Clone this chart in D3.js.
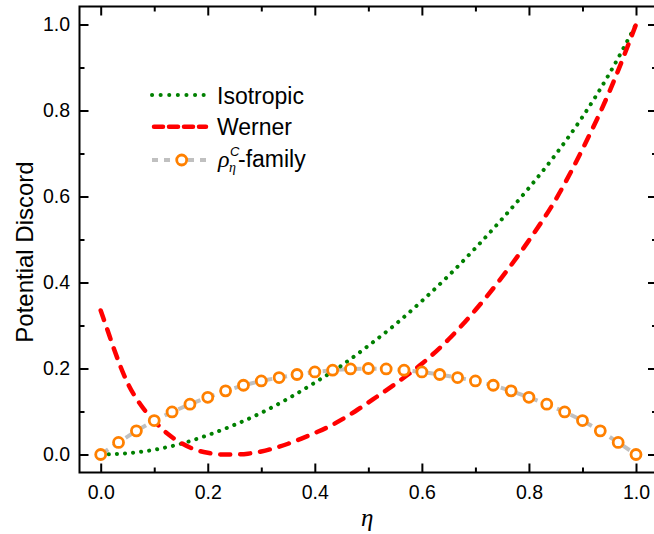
<!DOCTYPE html>
<meta charset="utf-8">
<script src="https://cdn.jsdelivr.net/npm/d3@7"></script>
<style>
body{margin:0;background:#fff;}
text{font-family:"Liberation Sans",Arial,sans-serif;fill:#000;}
</style>
<body>
<script>
// values
var isoEta=[0,0.05,0.1,0.15,0.2,0.25,0.3,0.35,0.4,0.45,0.5,0.55,0.6,0.65,0.7,0.75,0.8,0.85,0.9,0.95,1.0];
var isoVal=[0,0.003,0.011,0.025,0.045,0.069,0.097,0.13,0.167,0.207,0.253,0.302,0.357,0.416,0.48,0.548,0.62,0.698,0.785,0.885,1.0];

var wernerEta=[0,0.0125,0.025,0.0375,0.05,0.075,0.1,0.125,0.15,0.175,0.2,0.225,0.25,0.275,0.3,0.325,0.35,0.375,0.4,0.425,0.45,0.475,0.5,0.55,0.6,0.65,0.7,0.75,0.8,0.85,0.9,0.95,1.0];
var wernerVal=[0.335,0.29,0.245,0.203,0.167,0.115,0.078,0.048,0.027,0.012,0.004,0.0,0.0,0.002,0.007,0.015,0.025,0.037,0.05,0.064,0.081,0.10,0.121,0.164,0.211,0.268,0.336,0.413,0.498,0.593,0.71,0.843,1.0];

var famEta=[0,0.0333,0.0667,0.1,0.1333,0.1667,0.2,0.2333,0.2667,0.3,0.3333,0.3667,0.4,0.4333,0.4667,0.5,
            0.5333,0.5667,0.6,0.6333,0.6667,0.7,0.7333,0.7667,0.8,0.8333,0.8667,0.9,0.9333,0.9667,1.0];
var famVal=[0,0.028,0.055,0.079,0.099,0.117,0.133,0.148,0.161,0.171,0.179,0.186,0.192,0.196,0.199,0.200,
            0.199,0.196,0.192,0.186,0.179,0.171,0.161,0.148,0.133,0.117,0.099,0.079,0.055,0.028,0];

var majorTicks=[0,0.2,0.4,0.6,0.8,1.0];
var minorTicks=[0.1,0.3,0.5,0.7,0.9];
var legendLabels=["Isotropic","Werner"];

var W=654,H=534;
var svg=d3.select("body").append("svg").attr("width",W).attr("height",H);

// frame edges (note: "top" is reserved on window)
var fL=79.5,fR=657,fT=6.5,fB=472.5;
var x=d3.scaleLinear().domain([0,1]).range([100.7,636]);
var y=d3.scaleLinear().domain([0,1]).range([454.5,24.5]);
var fmt=d3.format(".1f");

function styleAxis(g){
  g.select(".domain").remove();
  g.selectAll("line").attr("stroke","#000").attr("stroke-width",2);
  g.selectAll("text").style("font-size","19.5px").attr("fill","#000");
}

// bottom
svg.append("g").attr("transform","translate(0,"+fB+")")
  .call(d3.axisBottom(x).tickValues(majorTicks).tickSize(-9).tickPadding(12.5).tickFormat(fmt)).call(styleAxis);
svg.append("g").attr("transform","translate(0,"+fB+")")
  .call(d3.axisBottom(x).tickValues(minorTicks).tickSize(-5).tickFormat("")).call(styleAxis);
// top
svg.append("g").attr("transform","translate(0,"+fT+")")
  .call(d3.axisTop(x).tickValues(majorTicks).tickSize(-9).tickFormat("")).call(styleAxis);
svg.append("g").attr("transform","translate(0,"+fT+")")
  .call(d3.axisTop(x).tickValues(minorTicks).tickSize(-5).tickFormat("")).call(styleAxis);
// left
svg.append("g").attr("transform","translate("+fL+",0)")
  .call(d3.axisLeft(y).tickValues(majorTicks).tickSize(-9).tickPadding(9.5).tickFormat(fmt)).call(styleAxis);
svg.append("g").attr("transform","translate("+fL+",0)")
  .call(d3.axisLeft(y).tickValues(minorTicks).tickSize(-5).tickFormat("")).call(styleAxis);
// right
svg.append("g").attr("transform","translate("+fR+",0)")
  .call(d3.axisRight(y).tickValues(majorTicks).tickSize(-9).tickFormat("")).call(styleAxis);
svg.append("g").attr("transform","translate("+fR+",0)")
  .call(d3.axisRight(y).tickValues(minorTicks).tickSize(-5).tickFormat("")).call(styleAxis);

svg.append("rect").attr("x",fL).attr("y",fT).attr("width",fR-fL).attr("height",fB-fT)
  .attr("fill","none").attr("stroke","#000").attr("stroke-width",2);

var line=d3.line().x(function(d){return x(d[0]);}).y(function(d){return y(d[1]);}).curve(d3.curveMonotoneX);

var isoPts=isoEta.map(function(e,i){return [e,isoVal[i]];});
var wPts=wernerEta.map(function(e,i){return [e,wernerVal[i]];});
var fPts=famEta.map(function(e,i){return [e,famVal[i]];});

var green="#008000",red="#ff0000",gray="#c0c0c0",orange="#ff8000";

svg.append("path").datum(fPts).attr("d",d3.line().x(function(d){return x(d[0]);}).y(function(d){return y(d[1]);}))
  .attr("fill","none").attr("stroke",gray).attr("stroke-width",4).attr("stroke-dasharray","9,6");

svg.append("path").datum(isoPts).attr("d",line)
  .attr("fill","none").attr("stroke",green).attr("stroke-width",4)
  .attr("stroke-linecap","round").attr("stroke-dasharray","0.1,8");

svg.append("path").datum(wPts).attr("d",line)
  .attr("fill","none").attr("stroke",red).attr("stroke-width",4.5)
  .attr("stroke-linecap","round").attr("stroke-dasharray","10,10");

svg.selectAll("circle.fam").data(fPts).enter().append("circle").attr("class","fam")
  .attr("cx",function(d){return x(d[0]);}).attr("cy",function(d){return y(d[1]);})
  .attr("r",5).attr("fill","#fff").attr("stroke",orange).attr("stroke-width",2.8);

// legend
var lg=svg.append("g");
var rowY=[95,126.7,160];
lg.append("line").attr("x1",152).attr("x2",204).attr("y1",rowY[0]).attr("y2",rowY[0])
  .attr("stroke",green).attr("stroke-width",4).attr("stroke-linecap","round").attr("stroke-dasharray","0.1,8.5");
lg.append("line").attr("x1",154).attr("x2",206).attr("y1",rowY[1]).attr("y2",rowY[1])
  .attr("stroke",red).attr("stroke-width",4.5).attr("stroke-linecap","round").attr("stroke-dasharray","9,6");
lg.append("line").attr("x1",152).attr("x2",211).attr("y1",rowY[2]).attr("y2",rowY[2])
  .attr("stroke",gray).attr("stroke-width",4).attr("stroke-dasharray","6,6");
lg.append("circle").attr("cx",181.7).attr("cy",rowY[2]).attr("r",5)
  .attr("fill","#fff").attr("stroke",orange).attr("stroke-width",2.8);
legendLabels.forEach(function(t,i){
  lg.append("text").attr("x",217).attr("y",rowY[i]+8.5).style("font-size","23px").text(t);
});
lg.append("text").attr("x",218).attr("y",167).style("font-family","'Liberation Serif','DejaVu Serif',serif")
  .style("font-style","italic").style("font-size","24px").text("ρ");
lg.append("text").attr("x",230).attr("y",156).style("font-style","italic").style("font-size","13px").text("C");
lg.append("text").attr("x",229).attr("y",172).style("font-family","'Liberation Serif','DejaVu Serif',serif")
  .style("font-style","italic").style("font-size","14px").text("η");
lg.append("text").attr("x",238).attr("y",167).style("font-size","23px").text("-family");

// axis titles
svg.append("text").attr("transform","translate(33,252) rotate(-90)").attr("text-anchor","middle")
  .style("font-size","24px").text("Potential Discord");
svg.append("text").attr("x",(fL+fR)/2-1).attr("y",526).attr("text-anchor","middle")
  .style("font-family","'Liberation Serif','DejaVu Serif',serif").style("font-style","italic")
  .style("font-size","25px").text("η");
</script>
</body>
